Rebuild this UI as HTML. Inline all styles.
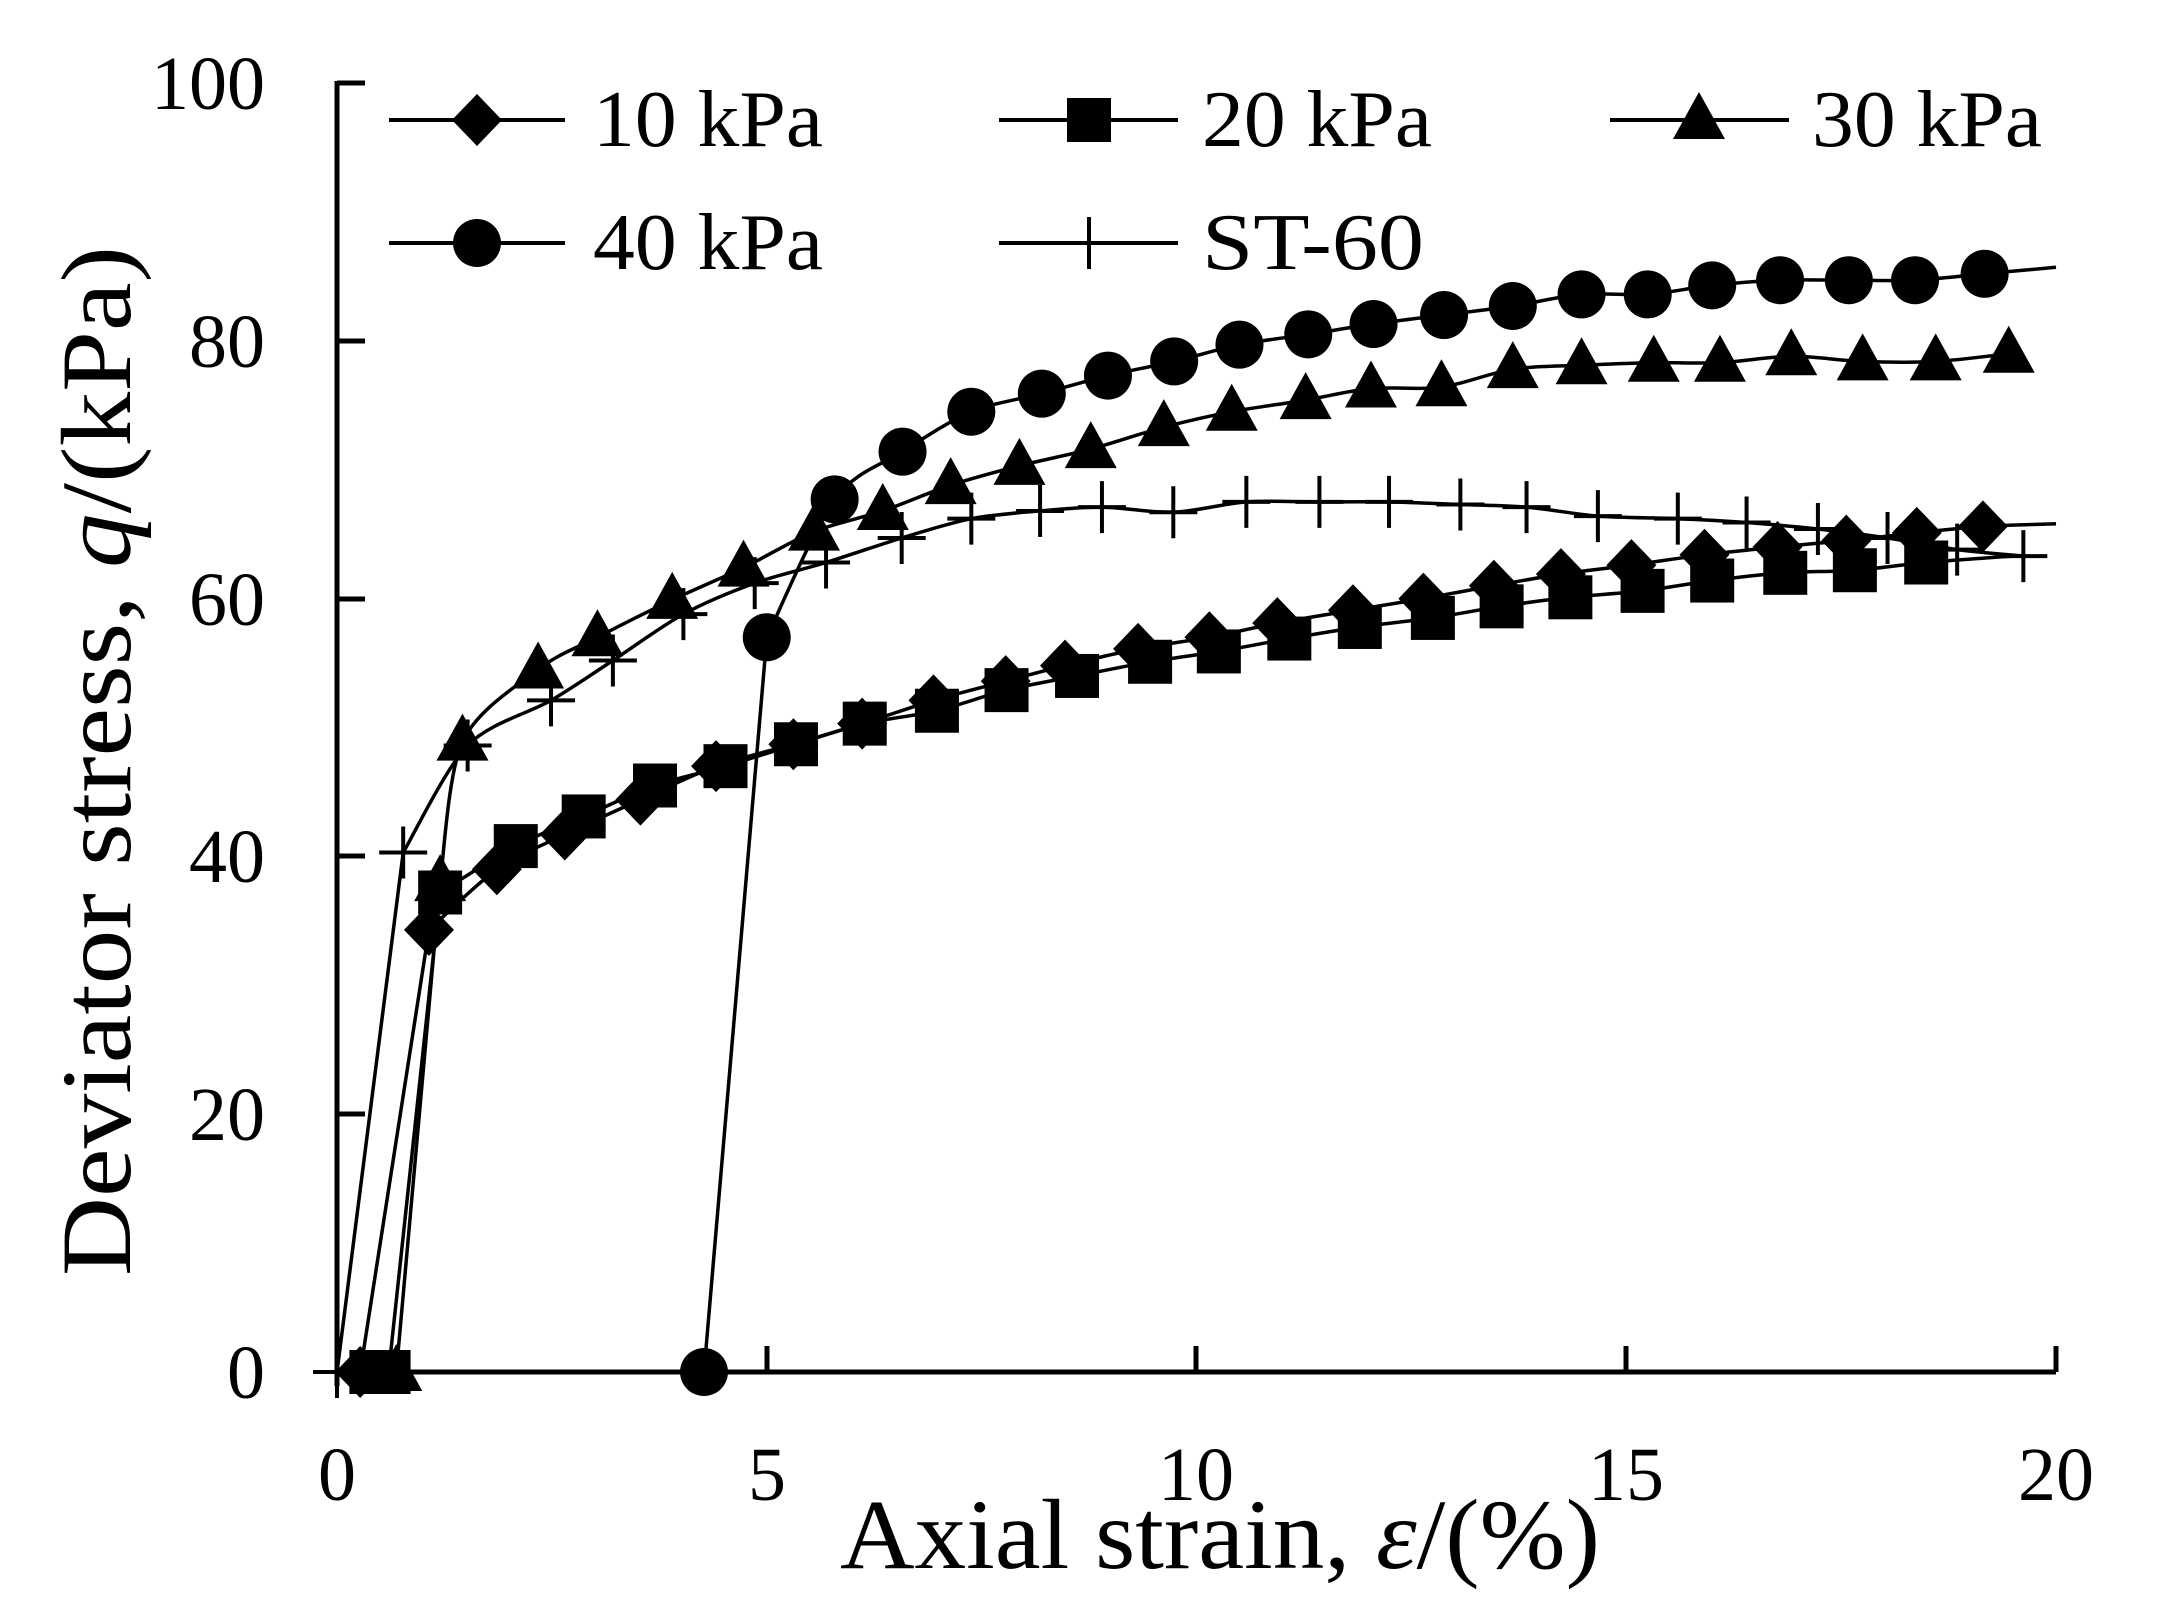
<!DOCTYPE html>
<html><head><meta charset="utf-8"><style>
html,body{margin:0;padding:0;background:#fff;}
svg{display:block;}
text{font-family:"Liberation Serif",serif;fill:#000;}
</style></head><body>
<svg id="s" width="2161" height="1611" viewBox="0 0 2161 1611" xmlns="http://www.w3.org/2000/svg">
<rect width="2161" height="1611" fill="#fff"/>
<g stroke="#000" stroke-width="5" fill="none">
<line x1="337" y1="81" x2="337" y2="1386"/>
<line x1="335" y1="1372" x2="2056" y2="1372"/>
<line x1="337" y1="83" x2="365" y2="83"/>
<line x1="337" y1="341" x2="365" y2="341"/>
<line x1="337" y1="599" x2="365" y2="599"/>
<line x1="337" y1="856" x2="365" y2="856"/>
<line x1="337" y1="1114" x2="365" y2="1114"/>
<line x1="767" y1="1372" x2="767" y2="1346"/>
<line x1="1196" y1="1372" x2="1196" y2="1346"/>
<line x1="1626" y1="1372" x2="1626" y2="1346"/>
<line x1="2056" y1="1372" x2="2056" y2="1346"/>
</g>
<g font-size="76" text-anchor="end">
<text x="265" y="109">100</text>
<text x="265" y="367">80</text>
<text x="265" y="625">60</text>
<text x="265" y="882">40</text>
<text x="265" y="1140">20</text>
<text x="265" y="1398">0</text>
</g>
<g font-size="76" text-anchor="middle">
<text x="337" y="1500">0</text>
<text x="767" y="1500">5</text>
<text x="1196" y="1500">10</text>
<text x="1626" y="1500">15</text>
<text x="2056" y="1500">20</text>
</g>
<text x="1220" y="1568" font-size="100" text-anchor="middle" textLength="760" lengthAdjust="spacingAndGlyphs">Axial strain, <tspan font-style="italic">ε</tspan>/(%)</text>
<text transform="translate(130,761) rotate(-90)" font-size="100" text-anchor="middle" textLength="1030" lengthAdjust="spacingAndGlyphs">Deviator stress, <tspan font-style="italic">q</tspan>/(kPa)</text>
<g font-size="80">
<text x="593" y="146" textLength="230" lengthAdjust="spacingAndGlyphs">10 kPa</text>
<text x="1202" y="146" textLength="230" lengthAdjust="spacingAndGlyphs">20 kPa</text>
<text x="1812" y="146" textLength="230" lengthAdjust="spacingAndGlyphs">30 kPa</text>
<text x="593" y="269" textLength="230" lengthAdjust="spacingAndGlyphs">40 kPa</text>
<text x="1202" y="269" textLength="222" lengthAdjust="spacingAndGlyphs">ST-60</text>
</g>
<g id="plot"></g>
</svg>
<script>
var NS="http://www.w3.org/2000/svg";
var P=document.getElementById("plot");
function X(v){return 337+v*85.95;}
function Y(v){return 1372-v*12.89;}
function el(t,a){var e=document.createElementNS(NS,t);for(var k in a)e.setAttribute(k,a[k]);P.appendChild(e);return e;}
function marker(type,x,y){
 if(type=="d"){el("polygon",{points:(x)+","+(y-26)+" "+(x+25)+","+y+" "+x+","+(y+26)+" "+(x-25)+","+y,fill:"#000"});}
 else if(type=="s"){el("rect",{x:x-22,y:y-22,width:44,height:44,fill:"#000"});}
 else if(type=="t"){el("polygon",{points:x+","+(y-28)+" "+(x+26)+","+(y+19)+" "+(x-26)+","+(y+19),fill:"#000"});}
 else if(type=="c"){el("circle",{cx:x,cy:y,r:24,fill:"#000"});}
 else if(type=="p"){el("path",{d:"M"+(x-24)+" "+y+"H"+(x+24)+"M"+x+" "+(y-26)+"V"+(y+26),stroke:"#000","stroke-width":4,fill:"none"});}
}
function path(pts,k){
 var d="M"+pts[0][0].toFixed(1)+" "+pts[0][1].toFixed(1);
 for(var i=0;i<pts.length-1;i++){
  var p1=pts[i],p2=pts[i+1];
  if(i<k){d+=" L"+p2[0].toFixed(1)+" "+p2[1].toFixed(1);continue;}
  var p0=pts[i>k?i-1:i],p3=pts[i+2<pts.length?i+2:i+1];
  var t=0.15;
  var c1=[p1[0]+(p2[0]-p0[0])*t,p1[1]+(p2[1]-p0[1])*t];
  var c2=[p2[0]-(p3[0]-p1[0])*t,p2[1]-(p3[1]-p1[1])*t];
  d+=" C"+c1[0].toFixed(1)+" "+c1[1].toFixed(1)+" "+c2[0].toFixed(1)+" "+c2[1].toFixed(1)+" "+p2[0].toFixed(1)+" "+p2[1].toFixed(1);
 }
 return d;
}
function series(type,pts,k,extra){
 var all=pts.concat(extra||[]).map(function(p){return [X(p[0]),Y(p[1])];});
 el("path",{d:path(all,k),stroke:"#000","stroke-width":3.5,fill:"none","stroke-linejoin":"round"});
 pts.forEach(function(p){marker(type,X(p[0]),Y(p[1]));});
}
series("d",[[0.27,0],[1.07,34.3],[1.86,39],[2.65,41.7],[3.53,44.4],[4.41,47],[5.31,48.7],[6.11,50.3],[6.94,52.1],[7.78,53.6],[8.47,54.8],[9.32,56.1],[10.15,57],[10.94,58.1],[11.82,59.1],[12.64,60],[13.46,61],[14.24,61.9],[15.06,62.6],[15.91,63.4],[16.76,64],[17.56,64.5],[18.38,65.1],[19.15,65.6]],1,[[20,65.8]]);
series("s",[[0.4,0],[0.6,0],[1.2,37.2],[2.08,40.8],[2.87,43.1],[3.7,45.5],[4.52,47],[5.34,48.7],[6.14,50.3],[6.98,51.3],[7.79,52.9],[8.61,54],[9.46,55.1],[10.26,55.9],[11.08,56.9],[11.9,57.8],[12.75,58.5],[13.55,59.4],[14.35,60.1],[15.19,60.6],[16,61.4],[16.85,62],[17.66,62.2],[18.49,62.8]],2,[[19.5,63.3]]);
series("t",[[0.69,0],[1.2,38],[1.46,48.9],[2.34,54.5],[3.03,57],[3.9,59.9],[4.73,62.4],[5.55,65.2],[6.35,66.8],[7.14,68.8],[7.94,70.3],[8.77,71.6],[9.62,73.3],[10.41,74.5],[11.27,75.4],[12.03,76.3],[12.85,76.4],[13.68,77.8],[14.48,78.1],[15.32,78.3],[16.09,78.3],[16.92,78.8],[17.75,78.4],[18.6,78.4],[19.45,79]],1);
series("c",[[4.27,0],[5.0,57],[5.79,67.7],[6.58,71.4],[7.38,74.5],[8.2,75.9],[8.97,77.3],[9.74,78.4],[10.5,79.7],[11.3,80.5],[12.06,81.3],[12.88,82],[13.68,82.7],[14.48,83.6],[15.25,83.6],[16,84.3],[16.79,84.7],[17.59,84.7],[18.36,84.7],[19.17,85.2]],1,[[20,85.7]]);
series("p",[[0,0],[0.77,40.3],[1.52,48.6],[2.49,52.1],[3.21,55.2],[4.03,58.8],[4.86,61.2],[5.69,62.8],[6.57,64.7],[7.38,66.2],[8.18,66.8],[8.9,67.1],[9.73,66.7],[10.58,67.5],[11.43,67.5],[12.24,67.5],[13.07,67.3],[13.84,67.1],[14.67,66.4],[15.6,66.2],[16.4,65.9],[17.23,65.4],[18.04,64.7],[18.85,63.8],[19.62,63.3]],1);
var L=[["d",389,565,477,120],["s",999,1178,1089,120],["t",1610,1789,1699,120],["c",389,565,477,243],["p",999,1178,1089,243]];
L.forEach(function(l){el("line",{x1:l[1],y1:l[4],x2:l[2],y2:l[4],stroke:"#000","stroke-width":4});marker(l[0],l[3],l[4]);});
</script>
</body></html>
